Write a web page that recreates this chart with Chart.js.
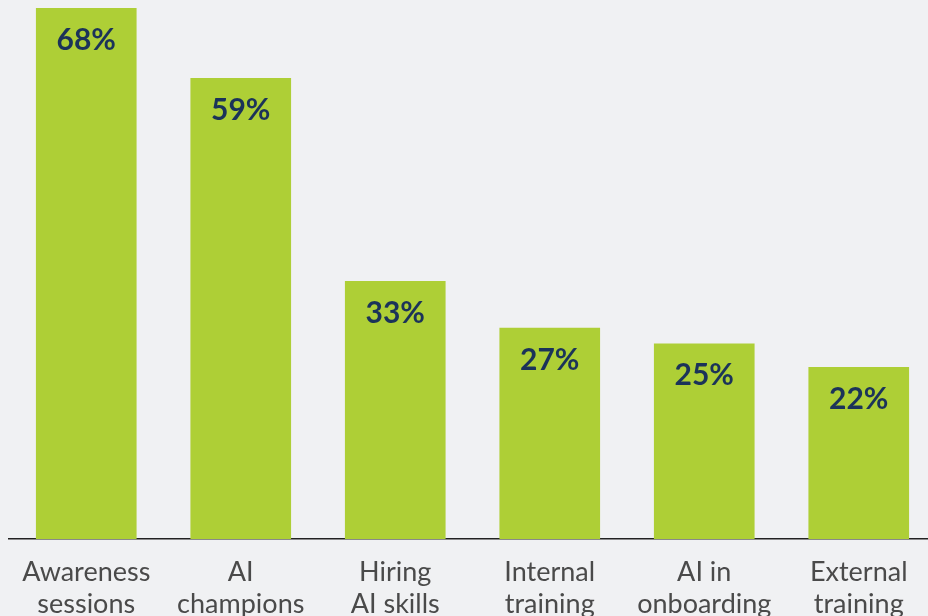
<!DOCTYPE html>
<html>
<head>
<meta charset="utf-8">
<script src="https://cdn.jsdelivr.net/npm/chart.js@4"></script>
<style>
    html, body { margin: 0; padding: 0; background: #f0f1f3; overflow: hidden; }
    #wrap { width: 936px; height: 616px; }
</style>
</head>
<body>
<div id="wrap"><canvas id="chart"></canvas></div>
<script>
// Chart data
const categories = [
    ['Awareness', 'sessions'],
    ['AI', 'champions'],
    ['Hiring', 'AI skills'],
    ['Internal', 'training'],
    ['AI in', 'onboarding'],
    ['External', 'training']
];
const values = [68, 59, 33, 27, 25, 22];

/**
 * Draws the percentage labels inside the top of each bar
 */
const valueLabels = {
    id: 'valueLabels',
    afterDatasetsDraw(chart) {
        const ctx = chart.ctx;
        const meta = chart.getDatasetMeta(0);
        ctx.save();
        ctx.font = 'bold 30px Lato';
        ctx.fillStyle = '#1b3359';
        ctx.textAlign = 'center';
        ctx.textBaseline = 'middle';
        meta.data.forEach((bar, i) => {
            ctx.fillText(values[i] + '%', bar.x, bar.y + 32);
        });
        ctx.restore();
    }
};

const ctx = document.getElementById('chart').getContext('2d');

new Chart(ctx, {
    type: 'bar',
    data: {
        labels: categories,
        datasets: [{
            data: values,
            backgroundColor: '#aecf36',
            borderWidth: 0,
            barThickness: 100
        }]
    },
    options: {
        responsive: true,
        maintainAspectRatio: false,
        animation: false,
        layout: {
            padding: { top: 8, left: 9, right: 0, bottom: 0 }
        },
        scales: {
            y: {
                display: false,
                min: 0,
                max: 68
            },
            x: {
                afterFit(scale) {
                    scale.height = 77;
                },
                grid: {
                    display: false
                },
                border: {
                    display: true,
                    color: '#222222',
                    width: 1.5
                },
                ticks: {
                    autoSkip: false,
                    maxRotation: 0,
                    padding: 9,
                    color: '#4a4a4a',
                    font: {
                        family: 'Lato',
                        size: 27,
                        lineHeight: 1.19
                    }
                }
            }
        },
        plugins: {
            legend: { display: false },
            tooltip: { enabled: false }
        }
    },
    plugins: [valueLabels]
});
</script>
</body>
</html>
